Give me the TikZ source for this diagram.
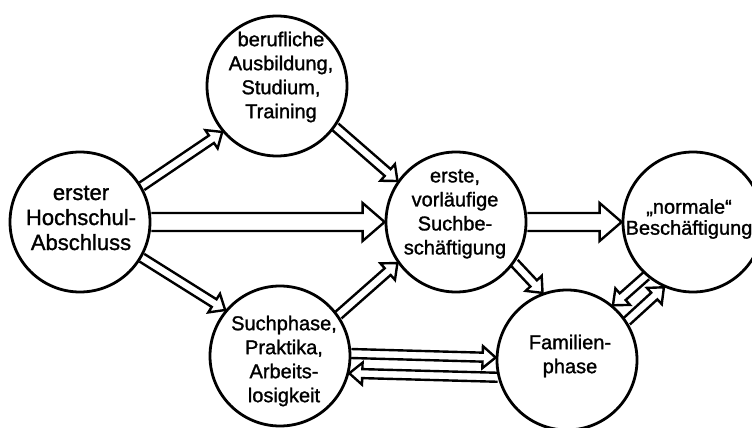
\documentclass[tikz,border=0pt]{standalone}
\usepackage{fontspec}
\setmainfont{Liberation Sans}[FakeBold=1.3]
\usetikzlibrary{calc}
\pgfdeclarelayer{bg}
\pgfsetlayers{bg,main}
\newcommand\blkarrow[5]{%
  \path (#1) coordinate (bas) (#2) coordinate (bae);%
  \pgfpointanchor{bas}{center}\pgfgetlastxy{\BAxa}{\BAya}%
  \pgfpointanchor{bae}{center}\pgfgetlastxy{\BAxb}{\BAyb}%
  \pgfmathsetmacro\BAa{atan2(\BAyb-\BAya,\BAxb-\BAxa)}%
  \pgfmathsetmacro\BAl{veclen(\BAxb-\BAxa,\BAyb-\BAya)}%
  \draw[blkstyle,shift={(\BAxa,\BAya)},rotate=\BAa]
    (0pt,-#3pt) -- ({\BAl pt-#5pt},-#3pt) -- ({\BAl pt-#5pt},-#4pt) -- (\BAl pt,0pt)
    -- ({\BAl pt-#5pt},#4pt) -- ({\BAl pt-#5pt},#3pt) -- (0pt,#3pt);%
}
\begin{document}
\begin{tikzpicture}[x=1pt,y=-1pt,
  circ/.style={circle, draw, line width=2.8pt, fill=white, minimum size=140pt, inner sep=0pt},
  lbl/.style={align=center, font=\fontsize{20}{24}\selectfont, inner sep=0pt},
  blkstyle/.style={draw, line width=2.4pt, fill=white, line join=miter, miter limit=4}]
\useasboundingbox (0,0) rectangle (752,428);
% circles
\node[circ] (A) at (80,222) {};
\node[circ] (B) at (277,86) {};
\node[circ] (C) at (456,222) {};
\node[circ] (D) at (693,222) {};
\node[circ] (E) at (280,356) {};
\node[circ] (F) at (567,360) {};
% texts
\node[lbl, font=\fontsize{22}{25}\selectfont] (At) at (81,218) {erster\\Hochschul-\\Abschluss};
\node[lbl] (Bt) at (281,77) {berufliche\\Ausbildung,\\Studium,\\Training};
\node[lbl] (Ct) at (455,214) {erste,\\vorläufige\\Suchbe-\\schäftigung};
\node[lbl, font=\fontsize{20}{21}\selectfont] (Dt) at (689,219) {„normale“\\Beschäftigung};
\node[lbl] (Et) at (284,361) {Suchphase,\\Praktika,\\Arbeits-\\losigkeit};
\node[lbl] (Ft) at (570,356) {Familien-\\phase};
% arrows
\begin{pgfonlayer}{bg}
\blkarrow{A.30}{B.220}{4.5}{11}{13}
\blkarrow{A.-30}{E.140}{4.5}{11}{13}
\blkarrow{B.-35}{C.145}{4.5}{11}{13}
\blkarrow{E.35}{C.215}{4.5}{11}{13}
\blkarrow{C.-35}{F.110}{4.5}{11}{13}
\blkarrow{E.2}{F.178}{4.5}{11}{13}
\blkarrow{F.194}{E.-14}{4.5}{11}{13}
\blkarrow{D.229}{F.50}{4.5}{11}{13}
\blkarrow{F.33}{D.246}{4.5}{11}{13}
\blkarrow{A.0}{C.180}{9}{19}{22}
\blkarrow{C.0}{D.180}{9}{19}{22}
\end{pgfonlayer}
\end{tikzpicture}
\end{document}
